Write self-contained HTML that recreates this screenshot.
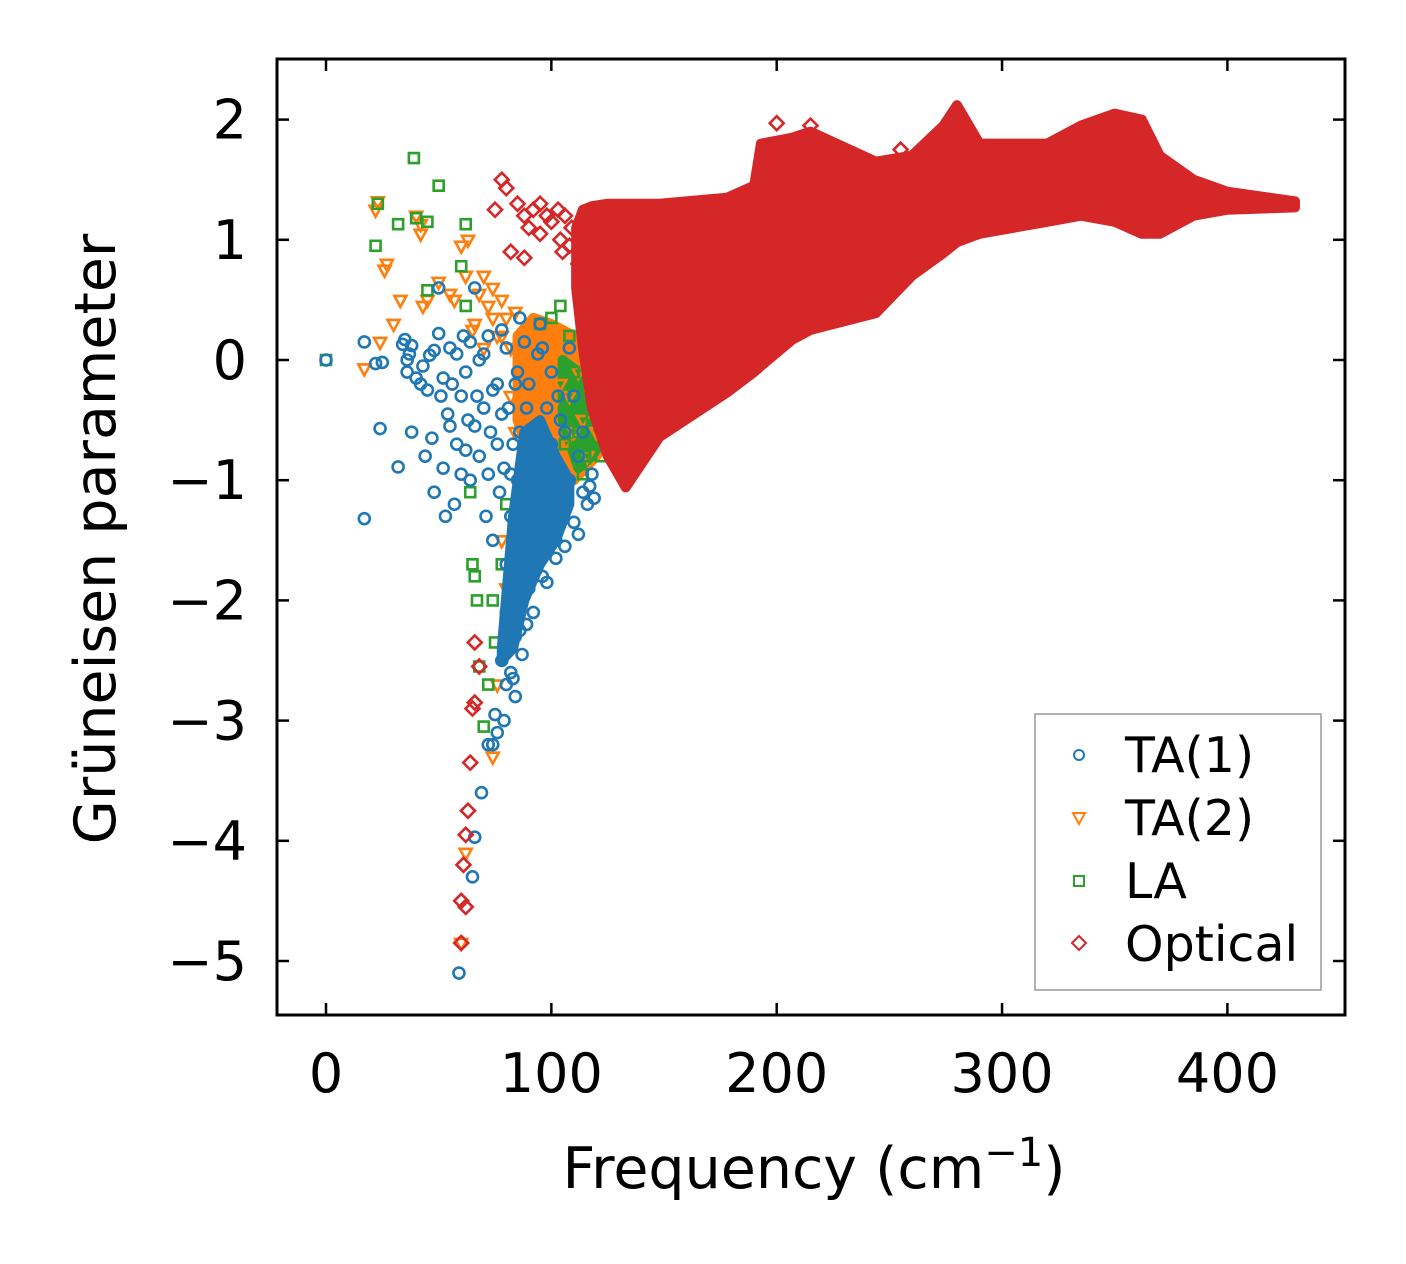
<!DOCTYPE html>
<html><head><meta charset="utf-8"><style>
body{margin:0;background:#fff}
svg{display:block;font-family:"DejaVu Sans","Liberation Sans",sans-serif}
</style></head><body>
<svg id="chart" width="1406" height="1264" viewBox="0 0 1406 1264">
<g id="marks"></g>
<rect x="277" y="59" width="1068" height="956" fill="none" stroke="#000" stroke-width="3"/>
<g id="axes"></g>
<text x="814" y="1188" text-anchor="middle" font-size="57">Frequency (cm<tspan dy="-22" font-size="40">−1</tspan><tspan dy="22">)</tspan></text>
<text transform="translate(115,539) rotate(-90)" text-anchor="middle" font-size="57">Grüneisen parameter</text>
<g>
<rect x="1035" y="714" width="286" height="276" fill="#fff" stroke="#999" stroke-width="1.5"/>
<circle cx="1079" cy="755" r="5" fill="none" stroke="#1f77b4" stroke-width="2"/>
<text x="1125" y="772" font-size="49">TA(1)</text>
<path d="M1073,813 L1085,813 L1079,824 Z" fill="none" stroke="#ff7f0e" stroke-width="2"/>
<text x="1125" y="835" font-size="49">TA(2)</text>
<rect x="1074" y="876" width="10" height="10" fill="none" stroke="#2ca02c" stroke-width="2"/>
<text x="1125" y="898" font-size="49">LA</text>
<path d="M1079,936 L1086,943 L1079,950 L1072,943 Z" fill="none" stroke="#d62728" stroke-width="2"/>
<text x="1125" y="961" font-size="49">Optical</text>
</g>
</svg>
<script>
const xTicks=[0,100,200,300,400];
const yTicks=[2,1,0,-1,-2,-3,-4,-5];
const yTickLabels=["2","1","0","−1","−2","−3","−4","−5"];
// TA(1) points [freq, gamma]
const ta1=[[0,0],[17,0.15],[17,-1.32],[22,-0.03],[24,-0.57],[25,-0.02],[32,-0.89],[34,0.13],[35,0.17],[36,-0.1],[37,0.05],[38,-0.6],[40,-0.15],[42,-0.2],[44,-0.8],[45,-0.25],[46,0.04],[47,-0.65],[48,-1.1],[50,0.22],[50,0.6],[51,-0.3],[52,-0.9],[53,-1.3],[54,-0.45],[55,0.1],[56,-0.2],[57,-1.2],[58,-0.7],[59,-5.1],[60,-0.95],[61,0.2],[62,-0.1],[63,-0.5],[64,-1.0],[65,-4.3],[66,-3.97],[67,-0.3],[68,-0.8],[69,-3.6],[70,0.05],[71,-1.3],[72,-3.2],[73,-0.6],[74,-1.5],[75,-2.95],[76,-0.2],[77,-1.1],[78,-2.5],[79,-0.9],[80,-2.1],[80,-1.7],[81,-0.4],[82,-2.6],[82,-1.3],[83,-0.7],[84,-2.3],[84,-1.9],[85,-1.0],[85,-0.1],[86,-1.5],[86,-2.0],[87,-1.2],[88,-0.8],[88,-1.8],[89,-2.2],[89,-0.4],[90,-1.0],[90,-1.6],[91,-1.3],[92,-2.1],[92,-0.6],[93,-1.1],[94,-1.5],[94,-0.9],[95,-1.3],[96,-1.8],[96,0.1],[97,-1.2],[98,-1.0],[99,-1.4],[100,-0.7],[101,-1.1],[102,-1.5],[103,-0.3],[104,-0.9],[105,-1.3],[106,-0.6],[108,-1.0],[110,-1.35],[112,-0.8],[114,-1.1],[116,-1.2],[118,-0.95],[119,-1.15],[120,-0.2],[108,0.1],[95,0.3],[88,0.15],[78,0.25],[66,0.6],[86,0.35],[98,-1.85],[93,-1.75],[87,-2.45],[84,-2.8],[79,-3.0],[83,-2.65],[36,0.0],[38,0.12],[43,-0.05],[48,0.08],[52,-0.15],[55,-0.55],[58,0.05],[60,-0.3],[62,-0.75],[64,0.15],[66,-0.55],[68,0.0],[70,-0.4],[72,-0.95],[72,0.2],[74,-0.25],[76,-0.7],[78,-0.45],[80,0.1],[82,-0.95],[84,-0.2],[86,-0.6],[90,-0.2],[94,0.05],[98,-0.4],[100,-0.1],[104,-0.5],[110,-0.3],[114,-0.6],[117,-1.05],[112,-1.45],[106,-1.55],[102,-1.65],[96,-1.6],[90,-1.9],[86,-2.25],[82,-2.35],[80,-2.7],[76,-3.1],[74,-3.2]];
// TA(2)
const ta2=[[17,-0.07],[22,1.25],[24,0.15],[26,0.75],[30,0.3],[33,0.5],[40,1.2],[42,1.05],[43,0.45],[45,0.5],[50,0.65],[55,0.55],[60,0.95],[62,0.7],[65,0.25],[68,0.55],[70,0.7],[72,0.45],[74,0.6],[76,0.2],[78,0.5],[80,0.35],[82,0.1],[84,0.4],[86,-0.2],[88,0.0],[90,-0.5],[92,-0.3],[94,-0.8],[96,-0.1],[98,-0.6],[100,-0.4],[102,-0.9],[104,-0.2],[106,-0.7],[108,-0.3],[110,-0.6],[112,-0.1],[114,-0.5],[116,-0.8],[118,-0.3],[120,-0.6],[122,-0.4],[124,-0.15],[80,-1.9],[76,-2.7],[74,-3.3],[62,-4.1],[60,-4.85],[78,-1.5],[100,-1.0],[105,0.2],[115,0.15],[23,1.32],[27,0.8],[42,1.13],[57,0.5],[63,1.0],[66,0.3],[70,0.1],[74,0.35],[78,0.2],[82,-0.3],[84,-0.6]];
// LA
const la=[[0,0],[22,0.95],[23,1.3],[32,1.13],[39,1.68],[40,1.18],[45,1.15],[50,1.45],[45,0.58],[60,0.78],[62,1.13],[62,0.45],[64,-1.1],[65,-1.7],[66,-1.8],[67,-2.0],[68,-2.55],[70,-3.05],[72,-2.7],[74,-2.0],[75,-2.35],[78,-1.7],[80,-1.2],[95,0.3],[100,0.35],[104,0.45],[108,0.2],[110,-0.3],[112,-0.6],[115,-0.8],[118,-0.5],[120,-0.3],[122,-0.45],[124,-0.65],[125,0.0],[126,-0.2],[128,-0.35],[130,-0.3],[134,-0.28],[138,-0.28],[102,-0.9],[106,-0.7],[114,-0.95],[122,-0.8],[110,-0.1]];
// Optical scattered points
const opt=[[60,-4.85],[60,-4.5],[61,-4.2],[62,-3.95],[63,-3.75],[64,-3.35],[65,-2.9],[66,-2.35],[68,-2.55],[66,-2.85],[75,1.25],[78,1.5],[80,1.43],[82,0.9],[85,1.3],[88,1.2],[90,1.1],[92,1.25],[95,1.3],[98,1.2],[100,1.15],[88,0.85],[95,1.05],[200,1.97],[215,1.95],[235,1.7],[255,1.75],[345,1.25],[355,1.2],[105,0.9],[62,-4.55],[103,1.25],[106,1.2],[109,1.1],[104,1.0],[108,0.95],[112,0.8]];
// Dense region envelopes: freq, upper, lower
const optEnvX=[111,114,118,125,133,148,178,190,193,207,215,244,260,274,280,290,320,335,350,362,370,385,400,430];
const optEnvHi=[1.1,1.25,1.28,1.3,1.3,1.3,1.35,1.45,1.8,1.85,1.9,1.65,1.7,1.95,2.12,1.8,1.8,1.95,2.05,2.0,1.7,1.5,1.4,1.32];
const optEnvLo=[0.6,0.1,-0.4,-0.8,-1.06,-0.64,-0.27,-0.1,-0.05,0.17,0.25,0.39,0.7,0.89,0.98,1.05,1.15,1.2,1.15,1.05,1.05,1.2,1.25,1.27];
const ta2EnvX=[85,92,100,110,120,127];
const ta2EnvHi=[0.2,0.35,0.3,0.2,0.1,-0.1];
const ta2EnvLo=[-0.5,-0.9,-1.1,-1.0,-0.8,-0.6];
const ta1EnvX=[78,83,88,95,102,108];
const ta1EnvHi=[-2.4,-1.3,-0.6,-0.5,-0.8,-1.0];
const ta1EnvLo=[-2.5,-2.4,-2.0,-1.7,-1.5,-1.2];
const laEnvX=[105,112,118,125,130];
const laEnvHi=[0.0,-0.1,-0.2,-0.2,-0.3];
const laEnvLo=[-0.5,-0.9,-0.8,-0.6,-0.45];

const X=v=>326+v*2.2535, Y=v=>360-v*120.2;
const NS='http://www.w3.org/2000/svg';
const marks=document.getElementById('marks'), axes=document.getElementById('axes');
function env(xs,hi,lo,color,name){
  const p=document.createElementNS(NS,'polygon');
  let pts=xs.map((x,i)=>X(x)+','+Y(hi[i]));
  for(let i=xs.length-1;i>=0;i--)pts.push(X(xs[i])+','+Y(lo[i]));
  p.setAttribute('points',pts.join(' '));
  p.setAttribute('fill',color);p.setAttribute('stroke',color);p.setAttribute('stroke-width','10');p.setAttribute('stroke-linejoin','round');
  
  
  marks.appendChild(p);
}
function pts(arr,color,shape,name){
  arr.forEach(([x,y])=>{
    const cx=X(x),cy=Y(y);let el;
    if(shape==='c'){el=document.createElementNS(NS,'circle');el.setAttribute('cx',cx);el.setAttribute('cy',cy);el.setAttribute('r',5.5);}
    else{el=document.createElementNS(NS,'path');let d;
      if(shape==='t')d=`M${cx-6},${cy-4}L${cx+6},${cy-4}L${cx},${cy+7}Z`;
      else if(shape==='s')d=`M${cx-5},${cy-5}h10v10h-10Z`;
      else d=`M${cx},${cy-7}L${cx+7},${cy}L${cx},${cy+7}L${cx-7},${cy}Z`;
      el.setAttribute('d',d);}
    el.setAttribute('fill','none');el.setAttribute('stroke',color);el.setAttribute('stroke-width','2.6');
    
    
    marks.appendChild(el);
  });
}
env(ta2EnvX,ta2EnvHi,ta2EnvLo,'#ff7f0e','ta2-dense-region');
env(laEnvX,laEnvHi,laEnvLo,'#2ca02c','la-dense-region');
pts(ta2,'#ff7f0e','t','ta2-point');
pts(la,'#2ca02c','s','la-point');
env(ta1EnvX,ta1EnvHi,ta1EnvLo,'#1f77b4','ta1-dense-region');
pts(ta1,'#1f77b4','c','ta1-point');
env(optEnvX,optEnvHi,optEnvLo,'#d62728','optical-dense-region');
pts(opt,'#d62728','d','optical-point');

function line(x1,y1,x2,y2,name){const l=document.createElementNS(NS,'line');
  l.setAttribute('x1',x1);l.setAttribute('y1',y1);l.setAttribute('x2',x2);l.setAttribute('y2',y2);
  l.setAttribute('stroke','#000');l.setAttribute('stroke-width','2.5');
  
  
  axes.appendChild(l);}
function text(x,y,s,anchor,name){const t=document.createElementNS(NS,'text');
  t.setAttribute('x',x);t.setAttribute('y',y);t.setAttribute('text-anchor',anchor);t.setAttribute('font-size','54');t.textContent=s;
  
  
  axes.appendChild(t);}
xTicks.forEach(v=>{const x=X(v);line(x,1015,x,1003,'x-tick');line(x,59,x,71,'x-tick-top');text(x,1092,String(v),'middle','x-tick-label');});
yTicks.forEach((v,i)=>{const y=Y(v);line(277,y,289,y,'y-tick');line(1345,y,1333,y,'y-tick-right');text(247,y+19,yTickLabels[i],'end','y-tick-label');});
</script>
</body></html>
